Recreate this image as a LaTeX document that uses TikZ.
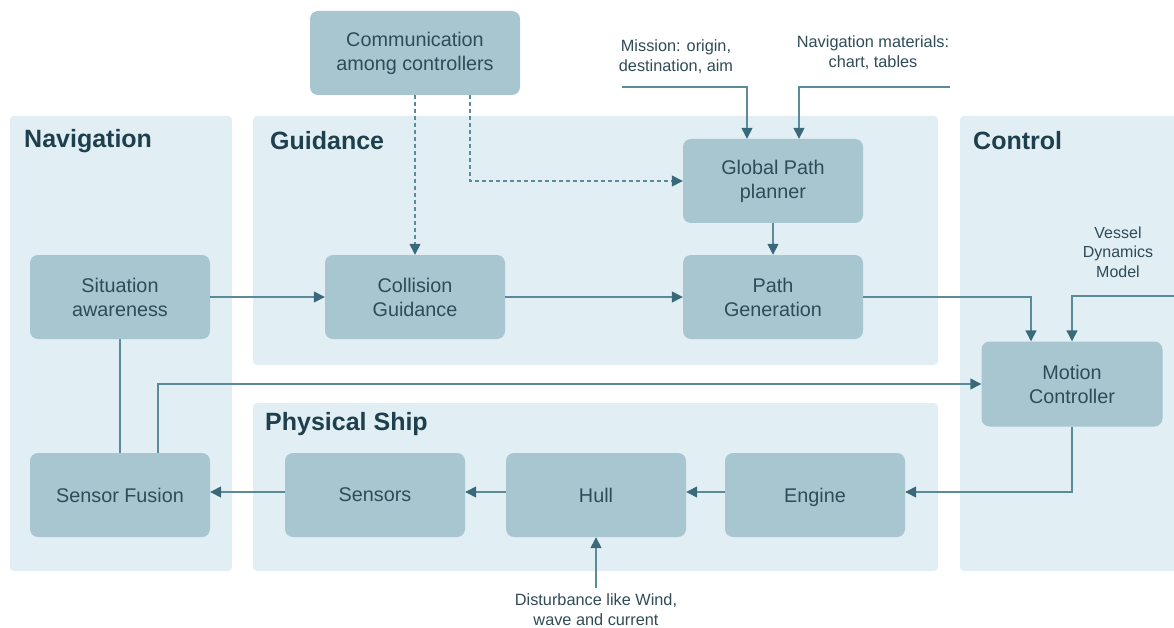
\documentclass[tikz,border=0pt]{standalone}
\usepackage{fontspec}
\setmainfont{Liberation Sans}
\usetikzlibrary{arrows.meta,calc}

\definecolor{panelbg}{HTML}{E1EEF4}
\definecolor{boxbg}{HTML}{A8C6D0}
\definecolor{linec}{HTML}{5B8A99}
\definecolor{tipc}{HTML}{3A6A7A}
\definecolor{textc}{HTML}{2F4B57}
\definecolor{titlec}{HTML}{1E3F4D}

\begin{document}
\begin{tikzpicture}[
    x=1pt, y=-1pt,
    panel/.style={fill=panelbg, rounded corners=4pt},
    title/.style={anchor=west, inner sep=0pt, text=titlec, font=\fontsize{25}{29}\selectfont\bfseries},
    block/.style={rectangle, fill=boxbg, rounded corners=8pt, minimum width=180pt, minimum height=84pt, align=center, text=textc, font=\fontsize{19.8}{24}\selectfont},
    note/.style={align=center, text=textc, inner sep=0pt, font=\fontsize{16.3}{20}\selectfont},
    link/.style={draw=linec, line width=1.4pt},
    arrow/.style={link, -{Triangle[length=11pt, width=11pt, color=tipc]}},
    dasharrow/.style={arrow, dash pattern=on 4pt off 3pt}
]
\useasboundingbox (0,0) rectangle (1174,628);
\clip (0,0) rectangle (1174,628);

% Panels
\fill[panel] (10,116) rectangle (232,571);
\fill[panel] (253,116) rectangle (938,365);
\fill[panel] (253,403) rectangle (938,571);
\fill[panel] (960,116) rectangle (1190,571);

\node[title] (navtitle) at (24,141) {Navigation};
\node[title] (guidtitle) at (270,141) {Guidance};
\node[title] (ctrltitle) at (973,141) {Control};
\node[title] (shiptitle) at (265,424) {Physical Ship};

% Blocks
\node[block, minimum width=210pt] (comm) at (415,53) {Communication \\ among controllers};
\node[block] (global) at (773,181) {Global Path \\ planner};
\node[block] (situation) at (120,297) {Situation \\ awareness};
\node[block] (collision) at (415,297) {Collision \\ Guidance};
\node[block] (pathgen) at (773,297) {Path \\ Generation};
\node[block, minimum width=181pt, minimum height=85pt] (motion) at (1072,384) {Motion \\ Controller};
\node[block] (fusion) at (120,495) {Sensor Fusion};
\node[block] (sensors) at (375,495) {Sensors};
\node[block] (hull) at (596,495) {Hull};
\node[block, text depth=0pt] (engine) at (815,495) {Engine};

% Outside inputs
\node[note] (mission) at (676,57) {Mission: origin, \\ destination, aim};
\node[note] (navmat) at (873,53) {Navigation materials: \\ chart, tables};
\node[note, font=\fontsize{16}{19.5}\selectfont] (vessel) at (1118,252) {Vessel \\ Dynamics \\ Model};
\node[note] (disturb) at (596,610) {Disturbance like Wind, \\ wave and current};
\coordinate (missionin) at (622,87);
\coordinate (navmatin) at (950,87);
\coordinate (vesselin) at (1190,296);
\coordinate (disturbin) at (596,588);

% Arrows
\draw[dasharrow] (comm) -- (collision);
\draw[dasharrow] ([xshift=55pt]comm.south) |- (global.west);
\draw[arrow] (missionin) -| ([xshift=-26pt]global.north);
\draw[arrow] (navmatin) -| ([xshift=26pt]global.north);
\draw[arrow] (global) -- (pathgen);
\draw[arrow] (situation) -- (collision);
\draw[arrow] (collision) -- (pathgen);
\draw[arrow] (pathgen.east) -| ([xshift=-41pt]motion.north);
\draw[arrow] (vesselin) -| (motion.north);
\draw[link] (situation) -- (fusion);
\draw[arrow] ([xshift=38pt]fusion.north) |- (motion.west);
\draw[arrow] (motion.south) |- ([yshift=3pt]engine.east);
\draw[arrow] ([yshift=3pt]engine.west) -- ([yshift=3pt]hull.east);
\draw[arrow] ([yshift=3pt]hull.west) -- ([yshift=3pt]sensors.east);
\draw[arrow] ([yshift=3pt]sensors.west) -- ([yshift=3pt]fusion.east);
\draw[arrow] (disturbin) -- (hull.south);

\end{tikzpicture}
\end{document}
